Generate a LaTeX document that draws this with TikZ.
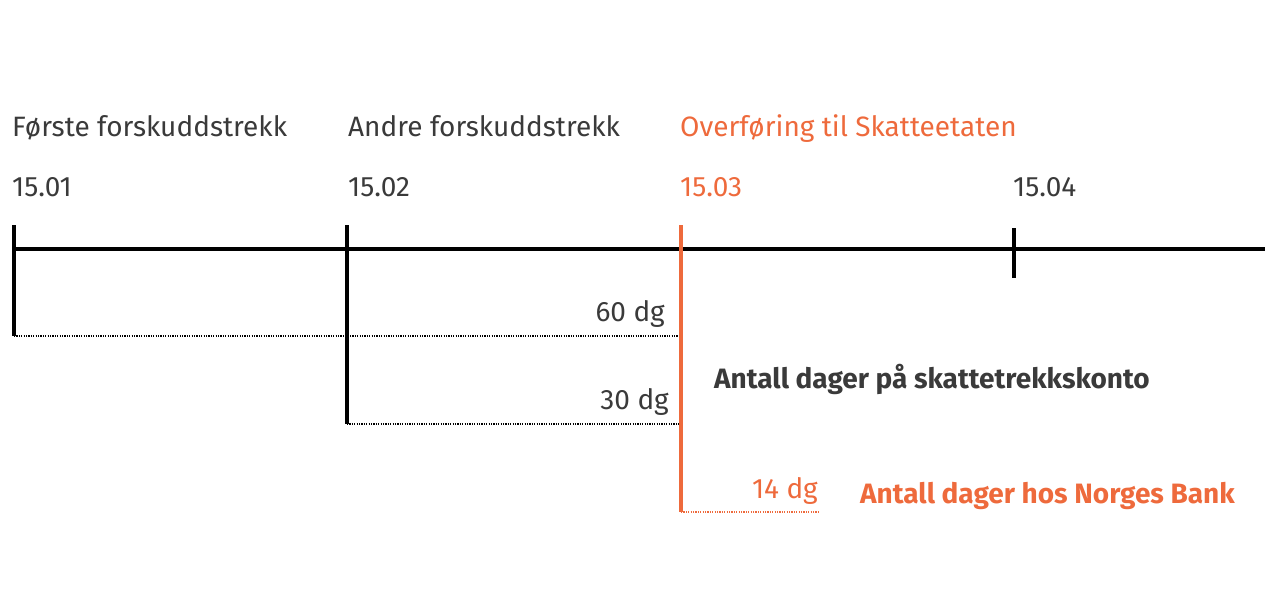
\documentclass[tikz,border=0pt]{standalone}
\usepackage{fontspec}
\setmainfont{Fira Sans}
\usepackage{xcolor}
\usetikzlibrary{positioning}
\definecolor{ink}{HTML}{3A3A3A}
\definecolor{skatt}{HTML}{EE6A3C}
\tikzset{
  txt/.style={inner sep=0pt, anchor=base west, text=ink, font=\fontsize{28}{30}\selectfont},
  days/.style={txt, anchor=base east},
  hot/.style={text=skatt},
  strong/.style={font=\fontsize{28}{30}\bfseries\selectfont},
  axis/.style={line width=3.2pt, draw=black},
  tickline/.style={line width=3.2pt, draw=black},
  span/.style={line width=2.4pt, dash pattern=on 1.2pt off 1.2pt, draw=black},
}
\begin{document}
\begin{tikzpicture}[x=1pt, y=-1pt]
  \useasboundingbox (0,0) rectangle (1280,600);

  % headings and dates
  \node[txt] (first) at (12,136) {Første forskuddstrekk};
  \node[txt] (second) at (348,136) {Andre forskuddstrekk};
  \node[txt, hot] (transfer) at (680,136) {Overføring til Skatteetaten};
  \node[txt] (d1) at (12,196) {15.01};
  \node[txt] (d2) at (348,196) {15.02};
  \node[txt, hot] (d3) at (680,196) {15.03};
  \node[txt] (d4) at (1013,196) {15.04};

  % time axis
  \coordinate (start) at (14,249);
  \coordinate (end) at (1265,249);
  \draw[axis] (start) -- (end);

  \coordinate (t1) at (14,225);
  \coordinate (t1b) at (14,336);
  \coordinate (t2) at (347,225);
  \coordinate (t2b) at (347,424);
  \coordinate (t3) at (681,225);
  \coordinate (t3a) at (681,336);
  \coordinate (t3b) at (681,424);
  \coordinate (t3c) at (681,512);
  \coordinate (t4) at (1014,228);
  \coordinate (t4b) at (1014,278);
  \coordinate (end14) at (818,512);

  \draw[tickline] (t1) -- (t1b);
  \draw[tickline] (t2) -- (t2b);
  \draw[tickline] (t4) -- (t4b);
  \draw[span] (t1b) -- (t3a);
  \draw[span] (t2b) -- (t3b);
  \draw[span, draw=skatt] (t3c) -- (end14);
  \draw[tickline, draw=skatt] (t3) -- (t3c);

  % day counts
  \node[days] (n60) at (665,321) {60 dg};
  \node[days] (n30) at (669,409) {30 dg};
  \node[days, hot] (n14) at (818,498) {14 dg};
  \node[txt, strong] (konto) at (714,388) {Antall dager på skattetrekkskonto};
  \node[txt, strong, hot] (bank) at (860,503) {Antall dager hos Norges Bank};
\end{tikzpicture}
\end{document}
